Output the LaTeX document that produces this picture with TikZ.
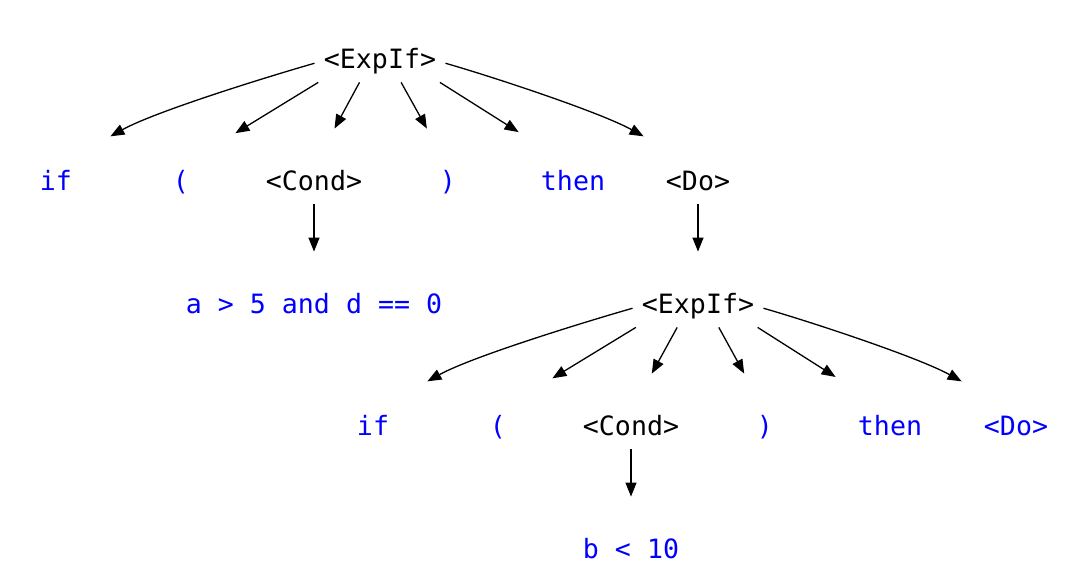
\documentclass[tikz,border=0pt]{standalone}
\usepackage{fontspec}
\setmainfont{DejaVu Sans Mono}
\usetikzlibrary{arrows.meta}

\tikzset{
  sym/.style={anchor=base, inner ysep=0pt, inner xsep=4.5pt, minimum width=54pt,
    text height=31pt, text depth=6.5pt,
    font=\fontsize{13.3pt}{16pt}\selectfont},
  nt/.style={sym, text=black},
  tm/.style={sym, text=blue},
}

\begin{document}
\begin{tikzpicture}[x=0.5pt,y=0.5pt]
			\useasboundingbox (0,0) rectangle (1072,576);
			% first level
			\node[nt] (e1) at (380,507) {<ExpIf>};
			\node[tm] (if1) at (56,385) {if};
			\node[tm] (lp1) at (181,385) {(};
			\node[nt] (c1) at (314,385) {<Cond>};
			\node[tm] (rp1) at (448,385) {)};
			\node[tm] (th1) at (573,385) {then};
			\node[nt] (do1) at (698,385) {<Do>};
			\node[tm] (x1) at (314,262) {a > 5 and d == 0};
			% second level
			\node[nt] (e2) at (698,262) {<ExpIf>};
			\node[tm] (if2) at (373,140) {if};
			\node[tm] (lp2) at (498,140) {(};
			\node[nt] (c2) at (631,140) {<Cond>};
			\node[tm] (rp2) at (765,140) {)};
			\node[tm] (th2) at (890,140) {then};
			\node[tm] (do2) at (1016,140) {<Do>};
			\node[tm] (x2) at (631,17) {b < 10};
			\path[-{Triangle[length=7pt,width=5.5pt]}, line width=0.65pt]
			(e1) edge [out=196, in=29, looseness=0.6] (if1)
			(e1) edge (lp1)
			(e1) edge (c1)
			(e1) edge (rp1)
			(e1) edge (th1)
			(e1) edge [out=-16, in=151, looseness=0.6] (do1)
			(c1) edge (x1)
			(do1) edge (e2)
			(e2) edge [out=196, in=29, looseness=0.6] (if2)
			(e2) edge (lp2)
			(e2) edge (c2)
			(e2) edge (rp2)
			(e2) edge (th2)
			(e2) edge [out=-16, in=151, looseness=0.6] (do2)
			(c2) edge (x2);
		\end{tikzpicture}
\end{document}
